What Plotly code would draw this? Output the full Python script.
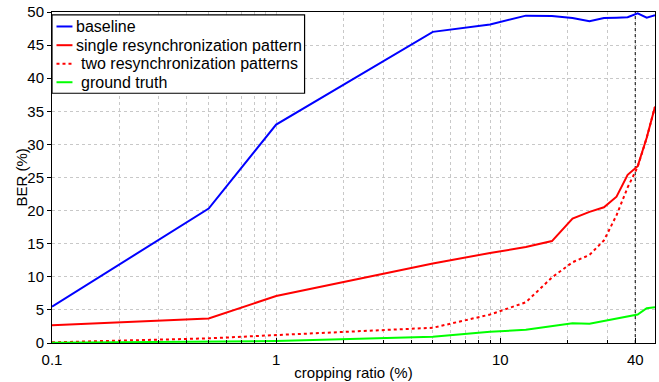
import plotly.graph_objects as go

# data
cropping_ratio = [0.1, 0.5, 1, 5, 9, 13, 17, 21, 25, 29, 33, 37, 41, 45, 49]
baseline = [5.5, 20.3, 33.0, 47.0, 48.1, 49.45, 49.4, 49.1, 48.6, 49.1, 49.15, 49.2, 49.8, 49.15, 49.5]
single_resync = [2.7, 3.7, 7.1, 12.0, 13.6, 14.5, 15.4, 18.8, 19.8, 20.5, 22.1, 25.4, 26.7, 31.0, 35.7]
two_resync = [0.1, 0.7, 1.2, 2.3, 4.3, 6.15, 9.9, 12.2, 13.3, 15.5, 19.3, 23.5, 26.6, 31.0, 35.7]
ground_truth = [0.05, 0.15, 0.3, 0.95, 1.7, 2.0, 2.6, 3.0, 2.9, 3.3, 3.65, 3.95, 4.3, 5.25, 5.4]

series_names = ["baseline", "single resynchronization pattern",
                "two resynchronization patterns", "ground truth"]
series_colors = ["#0000ff", "#ff0000", "#ff0000", "#00ff00"]
series_dash = ["solid", "solid", "dot", "solid"]

x_tickvals = [0.1, 1, 10, 40]
x_ticktext = ["0.1", "1", "10", "40"]
x_minor = [0.2, 0.3, 0.4, 0.5, 0.6, 0.7, 0.8, 0.9, 2, 3, 4, 5, 6, 7, 8, 9, 20, 30]
y_tickvals = [0, 5, 10, 15, 20, 25, 30, 35, 40, 45, 50]
marker_x = 40

FONT = "Liberation Sans, Arial, sans-serif"
W, H = 659, 382
ML, MR, MT, MB = 52, 3, 12, 34
PW, PH = W - ML - MR, H - MT - MB


def px_x(p):
    return (p - ML) / PW


def px_y(p):
    return (H - MB - p) / PH


fig = go.Figure()
fig.add_trace(go.Scatter(x=[marker_x, marker_x], y=[0, 50], mode="lines",
                         line=dict(color="black", width=1, dash="dot"),
                         showlegend=False, hoverinfo="skip"))
for name, vals, col, dash in zip(series_names,
                                 [baseline, single_resync, two_resync, ground_truth],
                                 series_colors, series_dash):
    fig.add_trace(go.Scatter(x=cropping_ratio, y=vals, mode="lines", name=name,
                             showlegend=False,
                             line=dict(color=col, width=2, dash=dash)))

# legend box (drawn manually to match the compact original legend)
shapes = [dict(type="rect", xref="paper", yref="paper",
               x0=px_x(52), x1=px_x(305), y0=px_y(94.5), y1=px_y(15),
               fillcolor="white", line=dict(color="black", width=1.2), layer="above")]
annotations = []
row_y = [26.7, 45.7, 64.5, 83.3]
text_x = [74, 74, 79, 79]
for name, col, dash, ry, tx in zip(series_names, series_colors, series_dash, row_y, text_x):
    shapes.append(dict(type="line", xref="paper", yref="paper",
                       x0=px_x(56.5), x1=px_x(72.5), y0=px_y(ry), y1=px_y(ry),
                       line=dict(color=col, width=2, dash=dash), layer="above"))
    annotations.append(dict(text=name, xref="paper", yref="paper", x=px_x(tx), y=px_y(ry),
                            xanchor="left", yanchor="middle", showarrow=False,
                            font=dict(family=FONT, size=16, color="black")))
annotations.append(dict(text="BER (%)", xref="paper", yref="paper", x=px_x(21), y=0.5,
                        xanchor="center", yanchor="middle", textangle=-90, showarrow=False,
                        font=dict(family=FONT, size=15, color="black")))

grid_col = "#c8c8c8"
fig.update_layout(
    width=W, height=H,
    margin=dict(l=ML, r=MR, t=MT, b=MB),
    paper_bgcolor="white", plot_bgcolor="white",
    font=dict(family=FONT, size=15, color="black"),
    showlegend=False,
    shapes=shapes, annotations=annotations,
    xaxis=dict(type="log", range=[-1, 1.6902], tickvals=x_tickvals, ticktext=x_ticktext,
               ticks="inside", ticklen=5, tickcolor="black", ticklabelstandoff=3,
               showline=True, linecolor="black", linewidth=1, mirror=True,
               showgrid=True, gridcolor=grid_col, griddash="dot", gridwidth=1,
               zeroline=False,
               minor=dict(tickvals=x_minor, ticks="inside", ticklen=3, tickcolor="black",
                          showgrid=True, gridcolor=grid_col, griddash="dot", gridwidth=1),
               title=dict(text="cropping ratio (%)", standoff=0,
                          font=dict(family=FONT, size=15)),
               tickfont=dict(family=FONT, size=15)),
    yaxis=dict(range=[0, 50], tickvals=y_tickvals,
               ticks="outside", ticklen=4, tickcolor="black",
               showline=True, linecolor="black", linewidth=1, mirror=True,
               showgrid=True, gridcolor=grid_col, griddash="dot", gridwidth=1,
               zeroline=False,
               tickfont=dict(family=FONT, size=15)),
)

fig.write_html("out.html", config={"displayModeBar": False},
               post_script="document.body.style.margin='0';")
